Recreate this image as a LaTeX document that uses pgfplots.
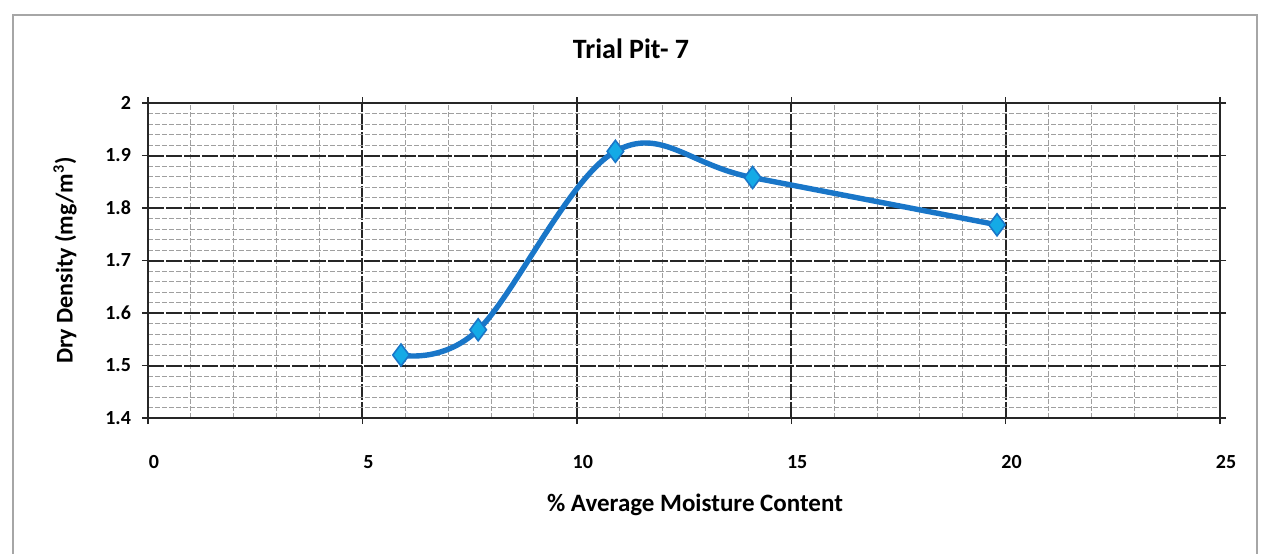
\documentclass[border=0pt]{standalone}
\usepackage{fontspec}
\setmainfont{Carlito}
\usepackage{pgfplots}
\pgfplotsset{compat=1.18}
\definecolor{lineblue}{RGB}{25,118,200}
\definecolor{markblue}{RGB}{20,170,230}
\begin{document}
\begin{tikzpicture}[x=1pt,y=1pt]
\begin{axis}[
  at={(0pt,0pt)}, anchor=origin,
  scale only axis, width=536pt, height=157.5pt,
  xmin=0, xmax=25, ymin=1.4, ymax=2,
  xtick={0,5,...,25}, ytick={1.4,1.5,...,2.01},
  minor x tick num=4, minor y tick num=4,
  grid=both,
  major grid style={black!85, line width=1pt, dash pattern=on 8pt off 1pt},
  minor grid style={gray!75, line width=0.45pt, dash pattern=on 2.5pt off 1pt},
  axis line style={black!85, line width=1pt},
  tick style={black!85, line width=0.7pt},
  tick align=outside, major tick length=3pt, minor tick length=0pt,
  /pgf/number format/assume math mode=true,
  ticklabel style={font=\fontsize{10}{12}\selectfont\bfseries},
  xticklabel style={yshift=-12pt, xshift=3pt},
  yticklabel style={xshift=-2pt},
  title={Trial Pit- 7},
  title style={font=\fontsize{14}{16}\selectfont\bfseries, at={(0.5,1)}, anchor=center, yshift=21pt, xshift=-26.5pt},
  xlabel={\% Average Moisture Content},
  xlabel style={font=\fontsize{12.5}{14}\selectfont\bfseries, at={(0.5,0)}, anchor=center, yshift=-43.5pt, xshift=5.5pt},
  ylabel={Dry Density (mg/m\textsuperscript{3})},
  ylabel style={font=\fontsize{12}{14}\selectfont\bfseries, at={(axis description cs:-0.0774,0.5)}, anchor=center},
]
\addplot[color=lineblue, line width=2.7pt, smooth, tension=0.6,
  mark=diamond*, mark size=5.5pt, mark options={fill=markblue, draw=lineblue, line width=0.8pt}]
  coordinates {(5.9,1.52) (7.7,1.568) (10.9,1.908) (14.1,1.858) (19.8,1.768)};
\end{axis}
\draw[gray!70, line width=0.8pt] (-67.5pt,-80pt) -- (-67.5pt,201.5pt) -- (554.5pt,201.5pt) -- (554.5pt,-80pt);
\pgfresetboundingbox
\useasboundingbox (-74pt,-67.5pt) rectangle (557pt,209pt);
\end{tikzpicture}
\end{document}
